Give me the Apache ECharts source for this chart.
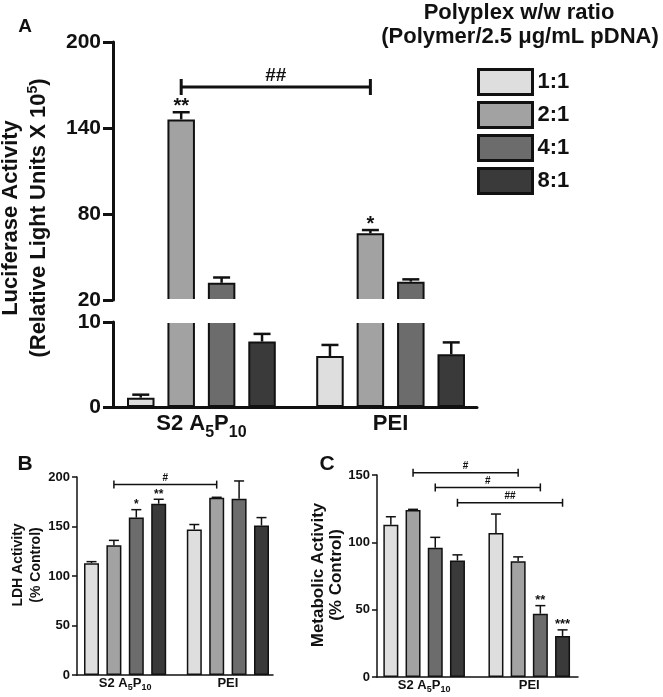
<!DOCTYPE html>
<html><head><meta charset="utf-8">
<script src="https://cdn.jsdelivr.net/npm/echarts@6/dist/echarts.min.js"></script>
<style>html,body{margin:0;padding:0;background:#fff}#c{width:663px;height:697px}</style>
</head><body><div id="c"></div>
<script>
// ---------------- DATA ----------------
const categories = ['S2 A5P10', 'PEI'];
const ratios = ['1:1', '2:1', '4:1', '8:1'];
// each row = one ratio, columns = [S2 A5P10, PEI]
const lucMean = [[1.1, 6.0], [146, 66.5], [32, 32.8], [7.7, 6.2]];
const lucErr = [[0.35, 1.3], [5, 2.3], [3.7, 1.6], [0.9, 1.4]];
const lucStars = [['', ''], ['**', '*'], ['', ''], ['', '']];
const ldhMean = [[113, 147], [131, 179], [159, 178], [173, 151]];
const ldhErr = [[1.5, 5], [5, 0.5], [8, 18], [4.5, 8]];
const ldhStars = [['', ''], ['', ''], ['*', ''], ['**', '']];
const metMean = [[113, 107], [124, 86], [96, 47], [86.5, 30.5]];
const metErr = [[6, 14], [0.5, 3.2], [7.7, 6], [4.2, 4.5]];
const metStars = [['', ''], ['', ''], ['', '**'], ['', '***']];
const lucBrackets = [{ y: 168.6, from: [0, 1], to: [1, 1], text: '##' }];
const ldhBrackets = [{ y: 192.3, from: [0, 1], to: [1, 1], text: '#' }];
const metBrackets = [
  { y: 151.7, from: [0, 1], to: [1, 1], text: '#' },
  { y: 140.8, from: [0, 2], to: [1, 2], text: '#' },
  { y: 129.4, from: [0, 3], to: [1, 3], text: '##' }
];
const catRich = { 'S2 A5P10': '{a|S2 A}{s|5}{a|P}{s|10}', 'PEI': '{a|PEI}{s|\u200b}' };
const legendTitle = ['Polyplex w/w ratio', '(Polymer/2.5 μg/mL pDNA)'];

// ---------------- STYLE ----------------
const FONT = '"Liberation Sans", Arial, sans-serif';
const COLORS = ['#dedede', '#a2a2a2', '#6c6c6c', '#3a3a3a'];
const INK = '#111';
const cfgA = { barW: 27.5, gap: 0.47, bw: 2, lw: 2.5, cap: 17, starSize: 20, starGap: 6, brLw: 3, brTick: 8, brFont: 19, brGap: 11 };
const cfgB = { barW: 15, gap: 0.493, bw: 1.5, lw: 1.5, cap: 10, starSize: 12, starGap: 5, brLw: 1.5, brTick: 4, brFont: 10, brGap: 6 };
const cfgC = { barW: 15, gap: 0.48, bw: 1.5, lw: 1.5, cap: 10, starSize: 13, starGap: 5, brLw: 1.5, brTick: 4, brFont: 10, brGap: 6 };

function barSeries(gi, means, cfg, filt) {
  return ratios.map((r, k) => ({
    name: r, type: 'bar', xAxisIndex: gi, yAxisIndex: gi,
    data: means[k].map(v => filt ? filt(v) : v),
    barWidth: cfg.barW, barGap: (cfg.gap * 100) + '%',
    itemStyle: { color: COLORS[k], borderColor: INK, borderWidth: cfg.bw },
    emphasis: { disabled: true }, clip: true, z: 2
  }));
}
function errItems(means, errs, stars, keep) {
  const out = [];
  for (let k = 0; k < 4; k++) for (let c = 0; c < 2; c++) {
    const m = means[k][c];
    if (keep && !keep(m)) continue;
    out.push({ cat: c, k: k, mean: m, err: errs[k][c], star: stars[k][c] });
  }
  return out;
}
function errSeries(gi, items, cfg) {
  const step = cfg.barW * (1 + cfg.gap);
  return {
    type: 'custom', xAxisIndex: gi, yAxisIndex: gi, z: 5, silent: true,
    data: items.map(d => [d.cat, d.mean, d.err, d.k]),
    renderItem: (params, api) => {
      const it = items[params.dataIndex];
      const b = api.coord([it.cat, it.mean]);
      const t = api.coord([it.cat, it.mean + it.err]);
      const x = b[0] + (it.k - 1.5) * step;
      const ch = [
        { type: 'line', shape: { x1: x, y1: b[1], x2: x, y2: t[1] }, style: { stroke: INK, lineWidth: cfg.lw } },
        { type: 'line', shape: { x1: x - cfg.cap / 2, y1: t[1], x2: x + cfg.cap / 2, y2: t[1] }, style: { stroke: INK, lineWidth: cfg.lw } }
      ];
      if (it.star) ch.push({ type: 'text', style: { text: it.star, x: x, y: t[1] - cfg.starGap, align: 'center', verticalAlign: 'middle', font: 'bold ' + cfg.starSize + 'px ' + FONT, fill: INK } });
      return { type: 'group', children: ch };
    }
  };
}
function bracketSeries(gi, brs, cfg) {
  const step = cfg.barW * (1 + cfg.gap);
  return {
    type: 'custom', xAxisIndex: gi, yAxisIndex: gi, z: 5, silent: true,
    data: brs.map(b => [b.from[0], b.y]),
    renderItem: (params, api) => {
      const b = brs[params.dataIndex];
      const p1 = api.coord([b.from[0], b.y]), p2 = api.coord([b.to[0], b.y]);
      const x1 = p1[0] + (b.from[1] - 1.5) * step, x2 = p2[0] + (b.to[1] - 1.5) * step, y = p1[1];
      const ls = { stroke: INK, lineWidth: cfg.brLw };
      return { type: 'group', children: [
        { type: 'line', shape: { x1: x1, y1: y, x2: x2, y2: y }, style: ls },
        { type: 'line', shape: { x1: x1, y1: y - cfg.brTick, x2: x1, y2: y + cfg.brTick }, style: ls },
        { type: 'line', shape: { x1: x2, y1: y - cfg.brTick, x2: x2, y2: y + cfg.brTick }, style: ls },
        { type: 'text', style: { text: b.text, x: (x1 + x2) / 2, y: y - cfg.brGap, align: 'center', verticalAlign: 'middle', font: 'bold ' + cfg.brFont + 'px ' + FONT, fill: INK } }
      ] };
    }
  };
}
function visY(gi, min, max, interval, fs, lw, tickLen, margin) {
  return { gridIndex: gi, type: 'value', min: min, max: max, interval: interval,
    axisLine: { show: true, lineStyle: { color: INK, width: lw } },
    axisTick: { show: true, length: tickLen, lineStyle: { color: INK, width: lw } },
    axisLabel: { fontFamily: FONT, fontWeight: 'bold', fontSize: fs, color: INK, margin: margin },
    splitLine: { show: false } };
}
function hidY(gi, min, max) { return { gridIndex: gi, type: 'value', min: min, max: max, show: false, splitLine: { show: false } }; }
function lineX(gi, lw) {
  return { gridIndex: gi, type: 'category', data: categories,
    axisLine: { show: true, lineStyle: { color: INK, width: lw } }, axisTick: { show: false }, axisLabel: { show: false } };
}
function labelX(gi, fs, sfs, subPad, margin) {
  return { gridIndex: gi, type: 'category', data: categories,
    axisLine: { show: false }, axisTick: { show: false },
    axisLabel: { interval: 0, hideOverlap: false, margin: margin, formatter: v => catRich[v],
      rich: { a: { fontFamily: FONT, fontWeight: 'bold', fontSize: fs, color: INK },
              s: { fontFamily: FONT, fontWeight: 'bold', fontSize: sfs, color: INK, padding: [subPad, 0, 0, 0] } } } };
}

const grid = [
  { left: 113, top: 42, width: 364, height: 258 },      // 0 A upper axes
  { left: 113, top: 322, width: 364, height: 85 },      // 1 A lower axes
  { left: 106.8, top: 42, width: 378.4, height: 258 },  // 2 A upper bars
  { left: 106.8, top: 322, width: 378.4, height: 85 },  // 3 A lower bars
  { left: 77, top: 477, width: 196, height: 198 },      // 4 B axes
  { left: 73.7, top: 477, width: 205.6, height: 198 },  // 5 B bars
  { left: 377, top: 475, width: 201, height: 202 },     // 6 C axes
  { left: 371.6, top: 475, width: 210.2, height: 202 }  // 7 C bars
];
const xAxis = [
  { gridIndex: 0, type: 'category', data: categories, show: false },
  lineX(1, 3),
  { gridIndex: 2, type: 'category', data: categories, show: false },
  labelX(3, 22, 16, 18, 0),
  lineX(4, 1.5),
  labelX(5, 13, 9, 8, 0),
  lineX(6, 1.5),
  labelX(7, 13, 9, 8, 0)
];
const yAxis = [
  visY(0, 20, 200, 60, 21, 3, 10, 12),
  visY(1, 0, 10, 10, 21, 3, 10, 12),
  hidY(2, 20, 200), hidY(3, 0, 10),
  visY(4, 0, 200, 50, 13, 1.5, 5, 7), hidY(5, 0, 200),
  visY(6, 0, 150, 50, 13, 1.5, 5, 7), hidY(7, 0, 150)
];
const series = [].concat(
  barSeries(2, lucMean, cfgA, v => v > 20 ? v : '-'),
  barSeries(3, lucMean, cfgA),
  [errSeries(2, errItems(lucMean, lucErr, lucStars, v => v > 20), cfgA),
   errSeries(3, errItems(lucMean, lucErr, lucStars, v => v <= 10), cfgA),
   bracketSeries(2, lucBrackets, cfgA)],
  barSeries(5, ldhMean, cfgB),
  [errSeries(5, errItems(ldhMean, ldhErr, ldhStars), cfgB), bracketSeries(5, ldhBrackets, cfgB)],
  barSeries(7, metMean, cfgC),
  [errSeries(7, errItems(metMean, metErr, metStars), cfgC), bracketSeries(7, metBrackets, cfgC)]
);

function txt(x, y, text, size, extra) {
  return Object.assign({ type: 'text', x: x, y: y, z: 50,
    style: { text: text, font: 'bold ' + size + 'px ' + FONT, fill: INK, align: 'center', verticalAlign: 'middle' } }, extra || {});
}
const graphic = [
  { type: 'rect', shape: { x: 115, y: 299, width: 362, height: 24 }, style: { fill: '#fff' }, z: 40 },
  txt(25, 27, 'A', 19), txt(25, 464, 'B', 21), txt(327, 464, 'C', 21),
  txt(519, 13, legendTitle[0], 22), txt(520, 37, legendTitle[1], 22),
  { type: 'text', x: 25, y: 218, rotation: Math.PI / 2, z: 50,
    style: { text: '{t|Luciferase Activity}\n{t|(Relative Light Units X 10}{p|5}{t|)}', align: 'center', verticalAlign: 'middle', fill: INK,
      rich: { t: { font: 'bold 22px ' + FONT, lineHeight: 28, fill: INK }, p: { font: 'bold 14px ' + FONT, padding: [0, 0, 12, 0], fill: INK } } } },
  { type: 'text', x: 27.5, y: 565, rotation: Math.PI / 2, z: 50,
    style: { text: 'LDH Activity\n(% Control)', font: 'bold 14px ' + FONT, lineHeight: 18, align: 'center', verticalAlign: 'middle', fill: INK } },
  { type: 'text', x: 327, y: 575, rotation: Math.PI / 2, z: 50,
    style: { text: 'Metabolic Activity\n(% Control)', font: 'bold 17px ' + FONT, lineHeight: 18, align: 'center', verticalAlign: 'middle', fill: INK } }
];

const chart = echarts.init(document.getElementById('c'), null, { renderer: 'canvas' });
chart.setOption({
  animation: false,
  backgroundColor: '#fff',
  grid: grid, xAxis: xAxis, yAxis: yAxis, series: series, graphic: graphic,
  legend: { data: ratios, orient: 'vertical', left: 472, top: 63, itemWidth: 54, itemHeight: 25, itemGap: 5, icon: 'rect',
    itemStyle: { borderColor: INK, borderWidth: 3 },
    textStyle: { fontFamily: FONT, fontWeight: 'bold', fontSize: 22, color: INK }, selectedMode: false }
});
</script></body></html>
